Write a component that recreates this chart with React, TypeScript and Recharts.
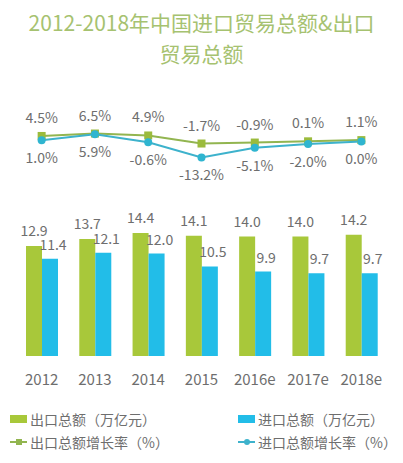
import {
  Bar,
  ComposedChart,
  LabelList,
  Line,
  XAxis,
  YAxis,
} from "recharts";

const years = ["2012", "2013", "2014", "2015", "2016e", "2017e", "2018e"];
const exportTotal = [12.9, 13.7, 14.4, 14.1, 14.0, 14.0, 14.2];
const importTotal = [11.4, 12.1, 12.0, 10.5, 9.9, 9.7, 9.7];
const exportGrowth = [4.5, 6.5, 4.9, -1.7, -0.9, 0.1, 1.1];
const importGrowth = [1.0, 5.9, -0.6, -13.2, -5.1, -2.0, 0.0];

const seriesNames = [
  "出口总额（万亿元）",
  "进口总额（万亿元）",
  "出口总额增长率（%）",
  "进口总额增长率（%）",
];

const data = years.map((year, i) => ({
  year,
  exportTotal: exportTotal[i],
  importTotal: importTotal[i],
  exportGrowth: exportGrowth[i],
  importGrowth: importGrowth[i],
}));

const GREEN_BAR = "#a8c83a";
const BLUE_BAR = "#22bde8";
const GREEN_LINE = "#92b550";
const BLUE_LINE = "#3db2cc";
const TEXT = "#6e6e6e";
const FONT = '"Noto Sans CJK SC", "Noto Sans", sans-serif';

const SquareDot = (props: any) => {
  const { cx, cy } = props;
  if (cx == null || cy == null) return null;
  return <rect x={cx - 4} y={cy - 4} width={8} height={8} fill="#9bbb3c" />;
};

const pct = (v: any) => `${Number(v).toFixed(1)}%`;
const num = (v: any) => Number(v).toFixed(1);

function LegendItem({ name, color, kind }: { name: string; color: string; kind: string }) {
  return (
    <div style={{ display: "flex", alignItems: "center", height: 22 }}>
      <svg width={19} height={10} style={{ marginRight: 1 }}>
        {kind === "bar" && <rect x={0} y={1} width={17} height={8} fill={color} />}
        {kind !== "bar" && <line x1={0} y1={5} x2={17} y2={5} stroke={color} strokeWidth={2} />}
        {kind === "square" && <rect x={6} y={2} width={6} height={6} fill={color} />}
        {kind === "circle" && <circle cx={9} cy={5} r={3} fill={color} />}
      </svg>
      <span style={{ fontSize: 14, color: TEXT }}>{name}</span>
    </div>
  );
}

export default function App() {
  return (
    <div
      style={{
        position: "absolute",
        top: 0,
        left: 0,
        width: 403,
        height: 463,
        background: "#fff",
        fontFamily: FONT,
      }}
    >
      <div
        style={{
          position: "absolute",
          top: 7,
          left: 0,
          width: 403,
          textAlign: "center",
          color: "#a6c270",
          fontSize: 21,
          lineHeight: "31px",
        }}
      >
        2012-2018年中国进口贸易总额&amp;出口
        <br />
        贸易总额
      </div>
      <div style={{ position: "absolute", top: 0, left: 0 }}>
        <ComposedChart
          width={403}
          height={463}
          data={data}
          margin={{ top: 100, right: 15, left: 15, bottom: 77 }}
          barGap={0}
          style={{ fontFamily: FONT }}
        >
          <XAxis
            dataKey="year"
            axisLine={false}
            tickLine={false}
            height={30}
            tickMargin={12}
            interval={0}
            tick={{ fill: TEXT, fontSize: 15 }}
          />
          <YAxis yAxisId="bar" hide domain={[0, 30]} />
          <YAxis yAxisId="line" hide domain={[-176, 34]} />
          <Bar yAxisId="bar" dataKey="exportTotal" fill={GREEN_BAR} barSize={16} isAnimationActive={false}>
            <LabelList dataKey="exportTotal" position="top" offset={10} fill={TEXT} fontSize={14} formatter={num} />
          </Bar>
          <Bar yAxisId="bar" dataKey="importTotal" fill={BLUE_BAR} barSize={16} isAnimationActive={false}>
            <LabelList dataKey="importTotal" position="top" offset={9} dx={3} fill={TEXT} fontSize={14} formatter={num} />
          </Bar>
          <Line
            yAxisId="line"
            dataKey="exportGrowth"
            stroke={GREEN_LINE}
            strokeWidth={2}
            dot={<SquareDot />}
            isAnimationActive={false}
          >
            <LabelList dataKey="exportGrowth" position="top" offset={13} fill={TEXT} fontSize={14} formatter={pct} />
          </Line>
          <Line
            yAxisId="line"
            dataKey="importGrowth"
            stroke={BLUE_LINE}
            strokeWidth={2}
            dot={{ r: 4, fill: "#2fb5d0", stroke: "none" }}
            isAnimationActive={false}
          >
            <LabelList dataKey="importGrowth" position="bottom" offset={13} fill={TEXT} fontSize={14} formatter={pct} />
          </Line>
        </ComposedChart>
      </div>
      <div
        style={{
          position: "absolute",
          top: 408,
          left: 10,
          width: 393,
          display: "grid",
          gridTemplateColumns: "228px 165px",
          rowGap: 1,
        }}
      >
        <LegendItem name={seriesNames[0]} color={GREEN_BAR} kind="bar" />
        <LegendItem name={seriesNames[1]} color={BLUE_BAR} kind="bar" />
        <LegendItem name={seriesNames[2]} color={GREEN_LINE} kind="square" />
        <LegendItem name={seriesNames[3]} color={BLUE_LINE} kind="circle" />
      </div>
    </div>
  );
}
